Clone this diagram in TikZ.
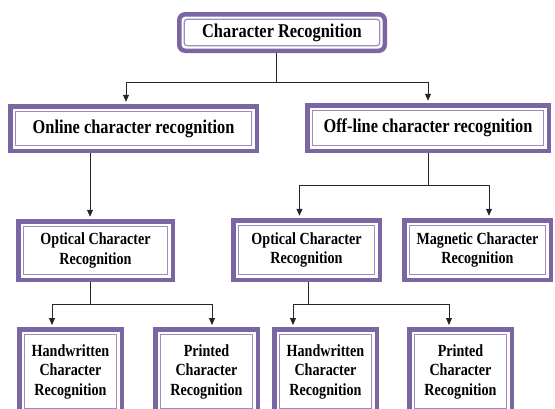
\documentclass[tikz,border=0pt]{standalone}
\usepackage{fontspec}
\setmainfont{Liberation Serif}
\newfontfamily\boxfont[FakeStretch=0.84]{Liberation Serif}
\newfontfamily\smallboxfont[FakeStretch=0.83]{Liberation Serif}
\usetikzlibrary{arrows.meta}
\definecolor{pur}{HTML}{7A66A2}
\definecolor{purl}{HTML}{9C8CC0}
\pgfdeclarelayer{bg}
\pgfsetlayers{bg,main}
\begin{document}
\begin{tikzpicture}[x=1pt,y=-1pt,
 box/.style={draw=pur, line width=4.5pt, outer sep=0pt, inner sep=0pt, align=center, fill=white,
   font=\smallboxfont\bfseries\fontsize{17}{19.5}\selectfont},
 big/.style={font=\boxfont\bfseries\fontsize{19.5}{22}\selectfont},
 inner/.style={draw=purl, line width=1.2pt},
 conn/.style={draw=black!85, line width=0.9pt},
 arr/.style={conn, -{Triangle[length=7pt,width=6pt]}, shorten >=4.5pt}]
\clip (0,0) rectangle (555,408);

\node[box, big, rounded corners=6pt, minimum width=205.5, minimum height=36.5] (top) at (282,32.5) {Character Recognition};
\node[box, big, minimum width=246.5, minimum height=44.5] (online) at (133.5,128.5) {Online character recognition};
\node[box, big, minimum width=241.5, minimum height=45.5] (offline) at (428,128) {Off-line character recognition};
\node[box, minimum width=154.5, minimum height=58.5] (opt1) at (95.5,250.5) {Optical Character\\Recognition};
\node[box, minimum width=146.5, minimum height=59.5] (opt2) at (306.5,250) {Optical Character\\Recognition};
\node[box, minimum width=146.5, minimum height=59.5] (mag) at (477.5,250) {Magnetic Character\\Recognition};
\node[box, minimum width=102.5, minimum height=84] (hw1) at (70.5,371.5) {Handwritten\\Character\\Recognition};
\node[box, minimum width=102.5, minimum height=84] (pr1) at (206.5,371.5) {Printed\\Character\\Recognition};
\node[box, minimum width=102.5, minimum height=84] (hw2) at (325.5,371.5) {Handwritten\\Character\\Recognition};
\node[box, minimum width=102.5, minimum height=84] (pr2) at (460.5,371.5) {Printed\\Character\\Recognition};

\draw[inner, rounded corners=3pt] ([shift={(5,5)}]top.north west) rectangle ([shift={(-5,-5)}]top.south east);
\foreach \n in {online,offline,opt1,opt2,mag,hw1,pr1,hw2,pr2}
  \draw[inner] ([shift={(5,5)}]\n.north west) rectangle ([shift={(-5,-5)}]\n.south east);

\coordinate (j1) at (276,82);
\coordinate (c1) at (90,0);
\coordinate (j2) at (428,185);
\coordinate (j3) at (90,304);
\coordinate (j4) at (308,304);
\begin{pgfonlayer}{bg}
\fill[white] (0,0) rectangle (555,408);
\draw[conn] (top.south -| j1) -- (j1);
\draw[arr] (j1) -| ([xshift=-7.5]online.north);
\draw[arr] (j1) -| (offline.north);
\draw[arr] (online.south -| c1) -- (opt1.north -| c1);
\draw[conn] (offline.south) -- (j2);
\draw[arr] (j2) -| ([xshift=-7]opt2.north);
\draw[arr] (j2) -| ([xshift=11.5]mag.north);
\draw[conn] (opt1.south -| j3) -- (j3);
\draw[arr] (j3) -| ([xshift=-18.5]hw1.north);
\draw[arr] (j3) -| ([xshift=5.5]pr1.north);
\draw[conn] (opt2.south -| j4) -- (j4);
\draw[arr] (j4) -| ([xshift=-32.5]hw2.north);
\draw[arr] (j4) -| ([xshift=-11.5]pr2.north);
\end{pgfonlayer}
\end{tikzpicture}
\end{document}
